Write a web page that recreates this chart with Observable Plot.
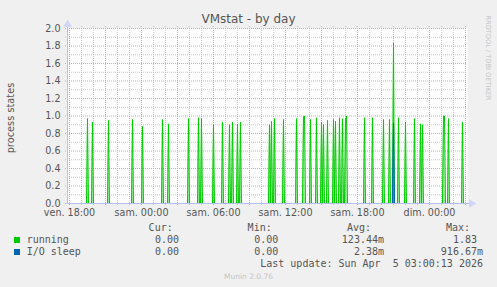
<!DOCTYPE html>
<html><head><meta charset="utf-8">
<script src="https://cdn.jsdelivr.net/npm/d3@7"></script>
<script src="https://cdn.jsdelivr.net/npm/@observablehq/plot@0.6"></script>
<style>
body{margin:0;background:#f0f0f0;}
#wrap{position:relative;width:497px;height:287px;background:#f0f0f0;overflow:hidden;font-family:"DejaVu Sans",sans-serif;color:#555;}
#wrap svg{position:absolute;left:0;top:0;}
.t{position:absolute;white-space:pre;line-height:1;}
.mono{font-family:"DejaVu Sans Mono",monospace;font-size:10px;color:#555;}
.sw{position:absolute;width:6px;height:6px;}
</style></head><body><div id="wrap"></div>
<script>
// ---- data (5-minute samples) ----
const startTime = "2026-04-03T17:50";
const endTime = "2026-04-05T03:10";
const runningTimes = [
  "2026-04-03T19:30","2026-04-03T19:55","2026-04-03T21:15","2026-04-03T23:15",
  "2026-04-04T00:05","2026-04-04T01:45","2026-04-04T02:15","2026-04-04T03:55",
  "2026-04-04T04:45","2026-04-04T05:00","2026-04-04T06:00","2026-04-04T06:45",
  "2026-04-04T07:20","2026-04-04T07:35","2026-04-04T08:00","2026-04-04T08:15",
  "2026-04-04T10:40","2026-04-04T10:50","2026-04-04T11:05","2026-04-04T11:50",
  "2026-04-04T12:55","2026-04-04T13:30","2026-04-04T13:35","2026-04-04T14:05",
  "2026-04-04T14:35","2026-04-04T15:00","2026-04-04T15:10","2026-04-04T15:30",
  "2026-04-04T16:00","2026-04-04T16:10","2026-04-04T16:30","2026-04-04T16:45",
  "2026-04-04T17:00","2026-04-04T17:05","2026-04-04T18:35","2026-04-04T19:15",
  "2026-04-04T20:10","2026-04-04T20:40","2026-04-04T21:00","2026-04-04T21:25",
  "2026-04-04T22:00","2026-04-04T22:45","2026-04-04T23:15","2026-04-04T23:25",
  "2026-04-05T01:10","2026-04-05T01:15","2026-04-05T01:35","2026-04-05T02:45"
];
const runningValues = [
  0.97,0.93,0.95,0.96,
  0.88,0.96,0.91,0.97,
  0.98,0.97,0.90,0.93,
  0.90,0.93,0.91,0.93,
  0.90,0.94,0.97,0.96,
  0.97,0.99,1.00,0.96,
  0.98,0.93,0.90,0.95,
  0.96,0.94,0.98,0.97,
  0.95,1.00,0.98,0.98,
  0.96,0.96,1.83,0.98,
  0.93,0.97,0.91,0.90,
  1.00,1.00,0.97,0.93
];
const ioSleepTimes = ["2026-04-04T21:00"];
const ioSleepValues = [0.917];
const yTicks = [0,0.2,0.4,0.6,0.8,1.0,1.2,1.4,1.6,1.8,2.0];
const yMinorTicks = [0.1,0.3,0.5,0.7,0.9,1.1,1.3,1.5,1.7,1.9];
const dayNames = ["dim.","lun.","mar.","mer.","jeu.","ven.","sam."];
const seriesNames = ["running","I/O sleep"];
const seriesColors = ["#00cc00","#0066b3"];
const curValues = ["0.00","0.00"];
const minValues = ["0.00","0.00"];
const avgValues = ["123.44m","2.38m"];
const maxValues = ["1.83 ","916.67m"];
const titleText = "VMstat - by day";
const yLabel = "process states";
const lastUpdate = "Last update: Sun Apr  5 03:00:13 2026";

// ---- build series ----
const start = new Date(startTime), end = new Date(endTime);
const slots = d3.timeMinute.every(5).range(start, end);
function series(times, values) {
  const m = new Map(times.map((t, i) => [+new Date(t), values[i]]));
  return slots.map(t => ({t, v: m.get(+t) ?? 0}));
}
const running = series(runningTimes, runningValues);
const ioSleep = series(ioSleepTimes, ioSleepValues);

const hours = d3.timeHour.range(start, end);
const minorHours = hours.filter(d => d.getHours() % 3 !== 0);
const majorHours = hours.filter(d => d.getHours() % 3 === 0);
const labelHours = hours.filter(d => d.getHours() % 6 === 0);
const fmt = d3.timeFormat("%H:%M");
const axisColor = "#b4c0ee";
const minorGrid = "#c8c8c8";
const majorGrid = "#f09a9a";

const chart = Plot.plot({
  width: 497, height: 225,
  marginLeft: 67, marginRight: 30, marginTop: 28, marginBottom: 22,
  style: {background: "transparent", fontFamily: "DejaVu Sans, sans-serif", fontSize: "9.6px", color: "#555"},
  x: {type: "time", domain: [start, end]},
  y: {domain: [0, 2]},
  marks: [
    Plot.frame({fill: "white", stroke: "none"}),
    Plot.ruleY(yMinorTicks, {stroke: minorGrid, strokeDasharray: "1,1", insetLeft: -2, insetRight: 0}),
    Plot.ruleX(minorHours, {stroke: minorGrid, strokeDasharray: "1,1", insetTop: -2, insetBottom: -2}),
    Plot.ruleY(yTicks, {stroke: majorGrid, strokeDasharray: "1,1", insetLeft: -2, insetRight: 0}),
    Plot.ruleX(majorHours, {stroke: majorGrid, strokeDasharray: "1,1", insetTop: -2, insetBottom: -3}),
    Plot.areaY(running, {x: "t", y: "v", fill: seriesColors[0], fillOpacity: 0.4}),
    Plot.line(running, {x: "t", y: "v", stroke: seriesColors[0], strokeWidth: 1}),
    Plot.areaY(ioSleep, {x: "t", y: "v", fill: seriesColors[1], fillOpacity: 0.6}),
    Plot.line(ioSleep, {x: "t", y: "v", stroke: seriesColors[1], strokeWidth: 1}),
    Plot.ruleY([0], {stroke: axisColor, insetRight: -2}),
    Plot.ruleX([start], {stroke: axisColor, insetTop: -2}),
    Plot.dot([end], {x: d => d, y: () => 0, symbol: "triangle", rotate: 90, r: 3.2, fill: "#cfd6f8", stroke: "none", dx: 4}),
    Plot.dot([2], {x: () => start, y: d => d, symbol: "triangle", r: 3.2, fill: "#cfd6f8", stroke: "none", dy: -4}),
    Plot.axisY({ticks: yTicks, tickSize: 0, tickPadding: 7, tickFormat: d3.format(".1f"), label: null, fill: "#555"}),
    Plot.axisX({ticks: labelHours, tickSize: 0, tickPadding: 6, label: null, fill: "#555",
      tickFormat: d => `${dayNames[d.getDay()]} ${fmt(d)}`})
  ]
});

const wrap = document.getElementById("wrap");
wrap.appendChild(chart);

function addText(txt, opts) {
  const el = document.createElement("div");
  el.className = "t" + (opts.mono ? " mono" : "");
  el.textContent = txt;
  const fs = opts.size || 10;
  el.style.fontSize = fs + "px";
  el.style.top = (opts.baseline - 0.846 * fs) + "px";
  if (opts.right != null) el.style.right = (497 - opts.right) + "px";
  if (opts.left != null) el.style.left = opts.left + "px";
  if (opts.color) el.style.color = opts.color;
  wrap.appendChild(el);
  return el;
}
// title
const tEl = addText(titleText, {baseline: 23, size: 12, left: 0, color: "#555"});
tEl.style.width = "497px"; tEl.style.textAlign = "center";
// y label (rotated)
const yl = document.createElement("div");
yl.className = "t"; yl.textContent = yLabel;
yl.style.fontSize = "9.8px"; yl.style.color = "#555";
yl.style.left = "11px"; yl.style.top = "118px";
yl.style.transform = "translate(-50%,-50%) rotate(-90deg)";
wrap.appendChild(yl);
// watermark
const wm = document.createElement("div");
wm.className = "t"; wm.textContent = "RRDTOOL / TOBI OETIKER";
wm.style.fontSize = "6.6px"; wm.style.color = "#c4c4c4";
wm.style.left = "488px"; wm.style.top = "58px";
wm.style.transform = "translate(-50%,-50%) rotate(90deg)";
wrap.appendChild(wm);
// legend
addText("Cur:", {mono: true, baseline: 231, right: 172.7});
addText("Min:", {mono: true, baseline: 231, right: 271.7});
addText("Avg:", {mono: true, baseline: 231, right: 371});
addText("Max:", {mono: true, baseline: 231, right: 470});
seriesNames.forEach((name, i) => {
  const b = 243 + 12 * i;
  const sw = document.createElement("div");
  sw.className = "sw"; sw.style.background = seriesColors[i];
  sw.style.left = "14px"; sw.style.top = (b - 6) + "px";
  wrap.appendChild(sw);
  addText(name, {mono: true, baseline: b, left: 26.7});
  addText(curValues[i], {mono: true, baseline: b, right: 179});
  addText(minValues[i], {mono: true, baseline: b, right: 278.3});
  addText(avgValues[i], {mono: true, baseline: b, right: 384});
  addText(maxValues[i], {mono: true, baseline: b, right: 483});
});
addText(lastUpdate, {mono: true, baseline: 267, right: 483});
const mu = addText("Munin 2.0.76", {baseline: 279, size: 7.5, left: 0, color: "#c4c4c4"});
mu.style.width = "497px"; mu.style.textAlign = "center";
</script></body></html>
